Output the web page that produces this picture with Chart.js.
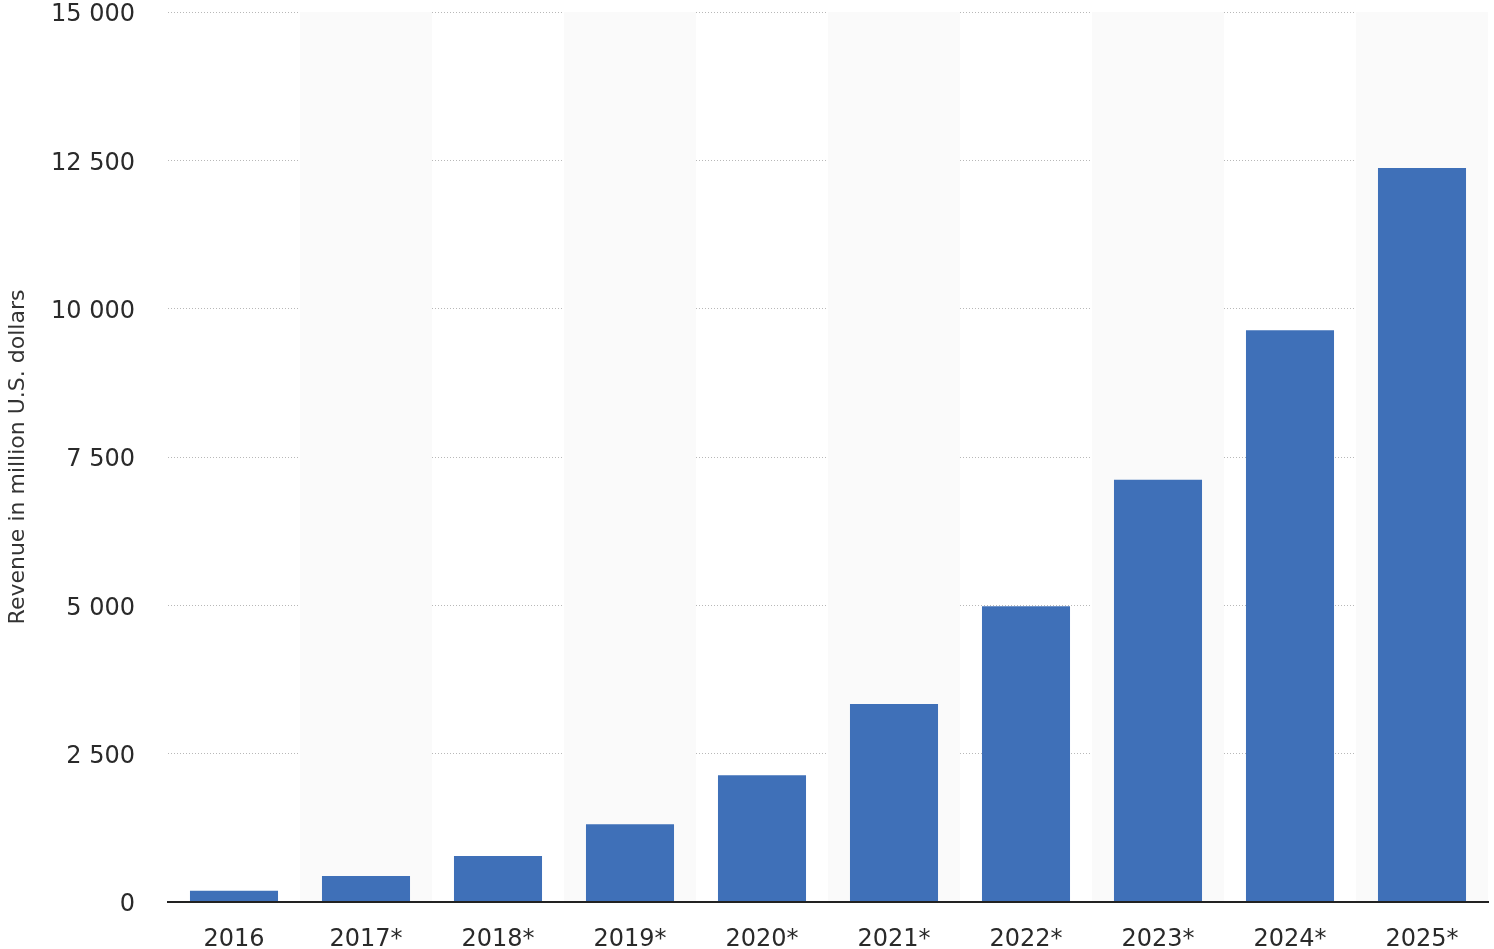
<!DOCTYPE html>
<html>
<head>
<meta charset="utf-8">
<script src="https://cdn.jsdelivr.net/npm/chart.js@4"></script>
<style>
html,body{margin:0;padding:0;background:#fff;}
#wrap{width:1494px;height:949px;position:relative;}
</style>
</head>
<body>
<div id="wrap"><canvas id="c" width="1494" height="949"></canvas></div>
<script>
const categories = ["2016","2017*","2018*","2019*","2020*","2021*","2022*","2023*","2024*","2025*"];
const revenue = [190, 439, 776, 1311, 2138, 3337, 4984, 7117, 9637, 12371];
const yTicks = [0, 2500, 5000, 7500, 10000, 12500, 15000];
const yTitle = "Revenue in million U.S. dollars";

const bands = {
  id: 'bands',
  beforeDatasetsDraw(chart) {
    const {ctx, chartArea, scales} = chart;
    const x = scales.x;
    ctx.save();
    ctx.fillStyle = '#fafafa';
    for (let i = 1; i < categories.length; i += 2) {
      const c = x.getPixelForValue(i);
      const w = (chartArea.right - chartArea.left) / categories.length;
      ctx.fillRect(c - w / 2, chartArea.top, w, chartArea.bottom - chartArea.top);
    }
    ctx.restore();
  }
};

const fmt = v => String(v).replace(/\B(?=(\d{3})+(?!\d))/g, ' ');

new Chart(document.getElementById('c'), {
  type: 'bar',
  data: {
    labels: categories,
    datasets: [{
      data: revenue,
      backgroundColor: '#3f70b8',
      barPercentage: 0.667,
      categoryPercentage: 1.0,
      borderWidth: 0
    }]
  },
  plugins: [bands],
  options: {
    responsive: false,
    animation: false,
    events: [],
    layout: { padding: { top: 12, right: 6, left: 0, bottom: 0 } },
    plugins: { legend: { display: false }, tooltip: { enabled: false } },
    scales: {
      x: {
        grid: { display: false, drawTicks: false },
        border: { display: true, color: '#222', width: 2, z: 2 },
        ticks: { color: '#2a2a2a', font: { family: 'DejaVu Sans', size: 24 }, padding: 23, maxRotation: 0 },
        afterFit(s) { s.height = 47; s.paddingLeft = 0; s.paddingRight = 0; }
      },
      y: {
        min: 0, max: 15000,
        afterBuildTicks(s) { s.ticks = yTicks.map(v => ({ value: v })); },
        grid: { color: '#b8b8b8', lineWidth: 1, drawTicks: false },
        border: { display: false, dash: [1, 2] },
        ticks: { color: '#2a2a2a', font: { family: 'DejaVu Sans', size: 24 }, padding: 33, labelOffset: 3, callback: v => fmt(v) },
        title: { display: true, text: yTitle, color: '#333', font: { family: 'DejaVu Sans', size: 22 }, padding: { top: 5, bottom: 0 } },
        afterFit(s) { s.width = 168; s.paddingTop = 0; s.paddingBottom = 0; }
      }
    }
  }
});
</script>
</body>
</html>
